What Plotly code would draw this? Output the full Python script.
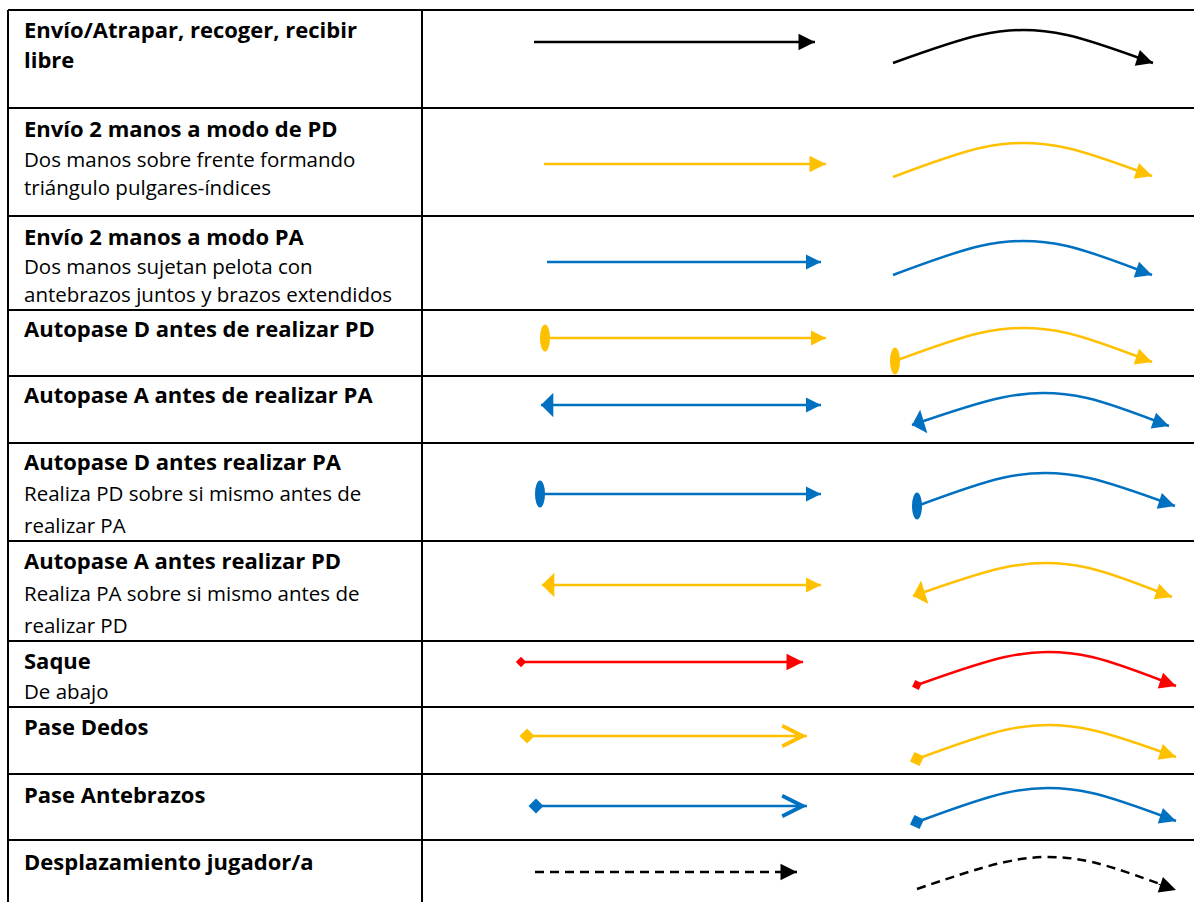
import math
import plotly.graph_objects as go

W, H = 1194, 902
BLACK = "#000000"
YELLOW = "#FFC000"
BLUE = "#0070C0"
RED = "#FF0000"
FONT = "Open Sans"
SIZE_BOLD = 22
SIZE_REG = 20.5

# ---- table grid ----
ROW_LINES_Y = [10, 108, 216, 310, 376, 443, 541, 641, 707, 774, 840]
COL_LINES_X = [8, 422]

# ---- label text (left column) ----
LABEL_TEXT = [
    "Envío/Atrapar, recoger, recibir", "libre",
    "Envío 2 manos a modo de PD", "Dos manos sobre frente formando", "triángulo pulgares-índices",
    "Envío 2 manos a modo PA", "Dos manos sujetan pelota con", "antebrazos juntos y brazos extendidos",
    "Autopase D antes de realizar PD",
    "Autopase A antes de realizar PA",
    "Autopase D antes realizar PA", "Realiza PD sobre si mismo antes de", "realizar PA",
    "Autopase A antes realizar PD", "Realiza PA sobre si mismo antes de", "realizar PD",
    "Saque", "De abajo",
    "Pase Dedos",
    "Pase Antebrazos",
    "Desplazamiento jugador/a",
]
LABEL_Y = [29, 59, 128, 159, 187, 236, 266, 294, 328, 394, 461, 493, 525,
           560, 593, 625, 660, 691, 726, 794, 861]
LABEL_BOLD = [1, 1, 1, 0, 0, 1, 0, 0, 1, 1, 1, 0, 0, 1, 0, 0, 1, 0, 1, 1, 1]

# ---- symbols per row ----
ROW_COLOR = [BLACK, YELLOW, BLUE, YELLOW, BLUE, BLUE, YELLOW, RED, YELLOW, BLUE, BLACK]
ROW_DASHED = [0, 0, 0, 0, 0, 0, 0, 0, 0, 0, 1]
START_MARK = ["none", "none", "none", "ellipse", "arrow", "ellipse", "arrow",
              "small_diamond", "diamond", "diamond", "none"]
STRAIGHT_HEAD = ["tri", "tri", "mid", "mid", "mid", "mid", "mid", "tri", "open", "open", "tri"]

STRAIGHT_X0 = [534, 544, 547, 545, 541, 540, 542, 521, 527, 536, 535]
STRAIGHT_X1 = [815, 826, 821, 826, 821, 821, 821, 803, 807, 807, 797]
STRAIGHT_Y = [42, 164, 262, 338, 405, 494, 585, 662, 736, 806, 872]

CURVE_X = [
    [893, 980, 1023, 1067, 1153],
    [893, 980, 1023, 1067, 1152],
    [893, 980, 1023, 1067, 1152],
    [895, 980, 1023, 1067, 1152],
    [912, 1000, 1043, 1087, 1169],
    [917, 1002, 1045, 1089, 1175],
    [913, 1002, 1045, 1089, 1172],
    [917, 1005, 1048, 1092, 1176],
    [917, 1005, 1048, 1092, 1176],
    [917, 1005, 1048, 1092, 1176],
    [917, 1005, 1048, 1092, 1176],
]
CURVE_Y = [
    [63, 35, 30, 35, 63],
    [177, 148, 143, 148, 176],
    [275, 246, 241, 246, 275],
    [361, 333, 328, 333, 362],
    [425, 398, 393, 398, 426],
    [506, 478, 473, 478, 506],
    [596, 568, 563, 568, 597],
    [685, 657, 652, 657, 686],
    [759, 730, 725, 730, 757],
    [822, 793, 788, 793, 821],
    [889, 862, 857, 862, 890],
]

LINE_W = 2.5
DASH = "9px,6px"
HEAD_STYLE = {"tri": 2, "mid": 2, "open": 5, "flat": 1}
HEAD_SCALE = {"tri": 3.3, "mid": 3.0, "open": 4.0, "flat": 4.1}
TAIL = 20
ELL_W, ELL_H = 10, 27

fig = go.Figure()


def head(x, y, dx, dy, color, style):
    L = math.hypot(dx, dy)
    fig.add_annotation(
        x=x, y=y, xref="x", yref="y",
        ax=dx / L * TAIL, ay=dy / L * TAIL, axref="pixel", ayref="pixel",
        text="", showarrow=True, arrowhead=HEAD_STYLE[style],
        arrowsize=HEAD_SCALE[style], arrowwidth=1, arrowcolor=color, standoff=0,
    )


def ellipse(cx, cy, color):
    fig.add_shape(type="circle", xref="x", yref="y",
                  x0=cx - ELL_W / 2, x1=cx + ELL_W / 2,
                  y0=cy - ELL_H / 2, y1=cy + ELL_H / 2,
                  fillcolor=color, line=dict(width=0), layer="above")


for i in range(len(ROW_COLOR)):
    color = ROW_COLOR[i]
    dash = DASH if ROW_DASHED[i] else "solid"
    # straight arrow
    fig.add_trace(go.Scatter(
        x=[STRAIGHT_X0[i], STRAIGHT_X1[i]], y=[STRAIGHT_Y[i], STRAIGHT_Y[i]],
        mode="lines", line=dict(color=color, width=LINE_W, dash=dash),
        hoverinfo="skip", showlegend=False))
    head(STRAIGHT_X1[i], STRAIGHT_Y[i], -1, 0, color, STRAIGHT_HEAD[i])
    # curved arrow
    cx, cy = CURVE_X[i], CURVE_Y[i]
    fig.add_trace(go.Scatter(
        x=cx, y=cy, mode="lines",
        line=dict(color=color, width=LINE_W, dash=dash, shape="spline", smoothing=1.0),
        hoverinfo="skip", showlegend=False))
    head(cx[-1], cy[-1], cx[-2] - cx[-1], cy[-2] - cy[-1], color, "tri")

    mark = START_MARK[i]
    if mark == "ellipse":
        ellipse(STRAIGHT_X0[i], STRAIGHT_Y[i], color)
        ellipse(cx[0], cy[0], color)
    elif mark == "arrow":
        head(STRAIGHT_X0[i], STRAIGHT_Y[i], 1, 0, color, "flat")
        head(cx[0], cy[0], cx[1] - cx[0], cy[1] - cy[0], color, "flat")
    elif mark in ("diamond", "small_diamond"):
        size = 8 if mark == "small_diamond" else 11.5
        fig.add_trace(go.Scatter(
            x=[STRAIGHT_X0[i], cx[0]], y=[STRAIGHT_Y[i], cy[0]], mode="markers",
            marker=dict(symbol="diamond", size=size, color=color, angle=[0, -20],
                        line=dict(width=0)),
            hoverinfo="skip", showlegend=False))

# labels
for t, y, b in zip(LABEL_TEXT, LABEL_Y, LABEL_BOLD):
    fig.add_annotation(
        x=22, y=y, xref="x", yref="y", xanchor="left", yanchor="middle",
        text=f"<b>{t}</b>" if b else t, showarrow=False,
        font=dict(family=FONT, size=SIZE_BOLD if b else SIZE_REG, color="black"))

# grid
for y in ROW_LINES_Y:
    fig.add_shape(type="line", xref="x", yref="y", x0=COL_LINES_X[0], x1=W, y0=y, y1=y,
                  line=dict(color="black", width=2))
for x in COL_LINES_X:
    fig.add_shape(type="line", xref="x", yref="y", x0=x, x1=x, y0=ROW_LINES_Y[0], y1=H,
                  line=dict(color="black", width=2))

fig.update_layout(
    width=W, height=H, margin=dict(l=0, r=0, t=0, b=0),
    paper_bgcolor="white", plot_bgcolor="white", hovermode=False,
    xaxis=dict(range=[0, W], visible=False, fixedrange=True),
    yaxis=dict(range=[H, 0], visible=False, fixedrange=True),
)

fig.write_html("out.html", config={"displayModeBar": False},
               post_script="document.body.style.margin='0';document.body.style.overflow='hidden';")
